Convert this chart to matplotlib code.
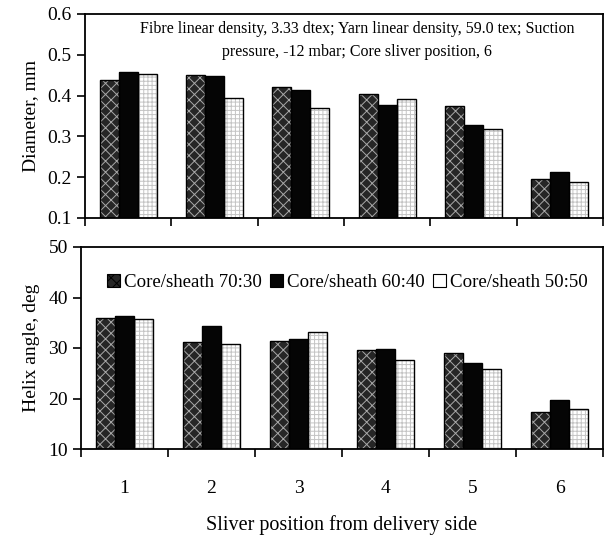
"""Yarn diameter and helix angle vs sliver position, two stacked bar panels."""

import matplotlib

matplotlib.use("Agg")
import matplotlib.pyplot as plt
import numpy as np
from matplotlib.patches import Patch

plt.rcParams["font.family"] = ["Liberation Serif", "DejaVu Serif"]
plt.rcParams["hatch.linewidth"] = 0.7

positions = ["1", "2", "3", "4", "5", "6"]
series = ["Core/sheath 70:30", "Core/sheath 60:40", "Core/sheath 50:50"]

diameter_7030 = [0.438, 0.450, 0.421, 0.405, 0.375, 0.196]
diameter_6040 = [0.457, 0.448, 0.413, 0.378, 0.328, 0.212]
diameter_5050 = [0.452, 0.393, 0.370, 0.391, 0.318, 0.189]

helix_7030 = [36.0, 31.2, 31.4, 29.7, 29.1, 17.3]
helix_6040 = [36.3, 34.4, 31.8, 29.8, 27.0, 19.8]
helix_5050 = [35.8, 30.7, 33.1, 27.6, 25.9, 18.0]

note = ("Fibre linear density, 3.33 dtex; Yarn linear density, 59.0 tex; Suction\n"
        "pressure, -12 mbar; Core sliver position, 6")

# fill styles for the three series: (face, hatch colour, hatch)
styles = [("#262626", "#a8a8a8", "xxx"),
          ("#050505", "#050505", None),
          ("#ffffff", "#c4c4c4", "++++")]

W, H = 605, 538
fig = plt.figure(figsize=(W / 100, H / 100), dpi=100)


def px_axes(left, top, right, bottom):
    return fig.add_axes([left / W, 1 - bottom / H, (right - left) / W, (bottom - top) / H])


ax_top = px_axes(85, 14, 603, 218)
ax_bot = px_axes(81, 247, 603, 449)

x = np.arange(len(positions))
w = 0.22


def draw_bars(ax, groups, base):
    for k, vals in enumerate(groups):
        face, hcol, hatch = styles[k]
        xs = x + (k - 1) * w
        heights = np.array(vals) - base
        ax.bar(xs, heights, w, bottom=base, color=face, edgecolor=hcol,
               hatch=hatch, linewidth=0, zorder=2)
        ax.bar(xs, heights, w, bottom=base, fill=False, edgecolor="black",
               linewidth=1.0, zorder=3)


draw_bars(ax_top, [diameter_7030, diameter_6040, diameter_5050], 0.1)
draw_bars(ax_bot, [helix_7030, helix_6040, helix_5050], 10)

for ax in (ax_top, ax_bot):
    ax.set_xlim(-0.5, 5.5)
    ax.set_xticks(np.arange(-0.5, 5.6, 1.0))
    ax.set_xticklabels([])
    ax.tick_params(axis="both", which="major", direction="out", length=6,
                   width=1.2, labelsize=14)
    for s in ax.spines.values():
        s.set_linewidth(1.3)

ax_top.set_ylim(0.1, 0.6)
ax_top.set_yticks(np.arange(0.1, 0.61, 0.1))
ax_top.set_yticklabels([f"{v:.1f}" for v in np.arange(0.1, 0.61, 0.1)])
ax_top.set_ylabel("Diameter, mm", fontsize=14, labelpad=6)
ax_top.text(0.525, 0.965, note, transform=ax_top.transAxes, ha="center",
            va="top", fontsize=11.5, linespacing=1.55)

ax_bot.set_ylim(10, 50)
ax_bot.set_yticks([10, 20, 30, 40, 50])
ax_bot.set_ylabel("Helix angle, deg", fontsize=14, labelpad=6)
ax_bot.set_xticks(x, minor=True)
ax_bot.set_xticklabels(positions, minor=True)
ax_bot.tick_params(axis="x", which="minor", length=0, pad=22, labelsize=14)
ax_bot.set_xlabel("Sliver position from delivery side", fontsize=14.5, labelpad=13)

handles = [Patch(facecolor=styles[0][0], edgecolor="black", hatch="xxx", linewidth=0.8),
           Patch(facecolor=styles[1][0], edgecolor="black", linewidth=0.8),
           Patch(facecolor="white", edgecolor="black", linewidth=0.8)]
ax_bot.legend(handles, series, loc="upper center", bbox_to_anchor=(0.51, 0.905),
              ncol=3, frameon=False, fontsize=13.6, handlelength=0.7,
              handleheight=0.7, handletextpad=0.2, columnspacing=0.45,
              borderaxespad=0)

fig.savefig("out.png", dpi=100)
